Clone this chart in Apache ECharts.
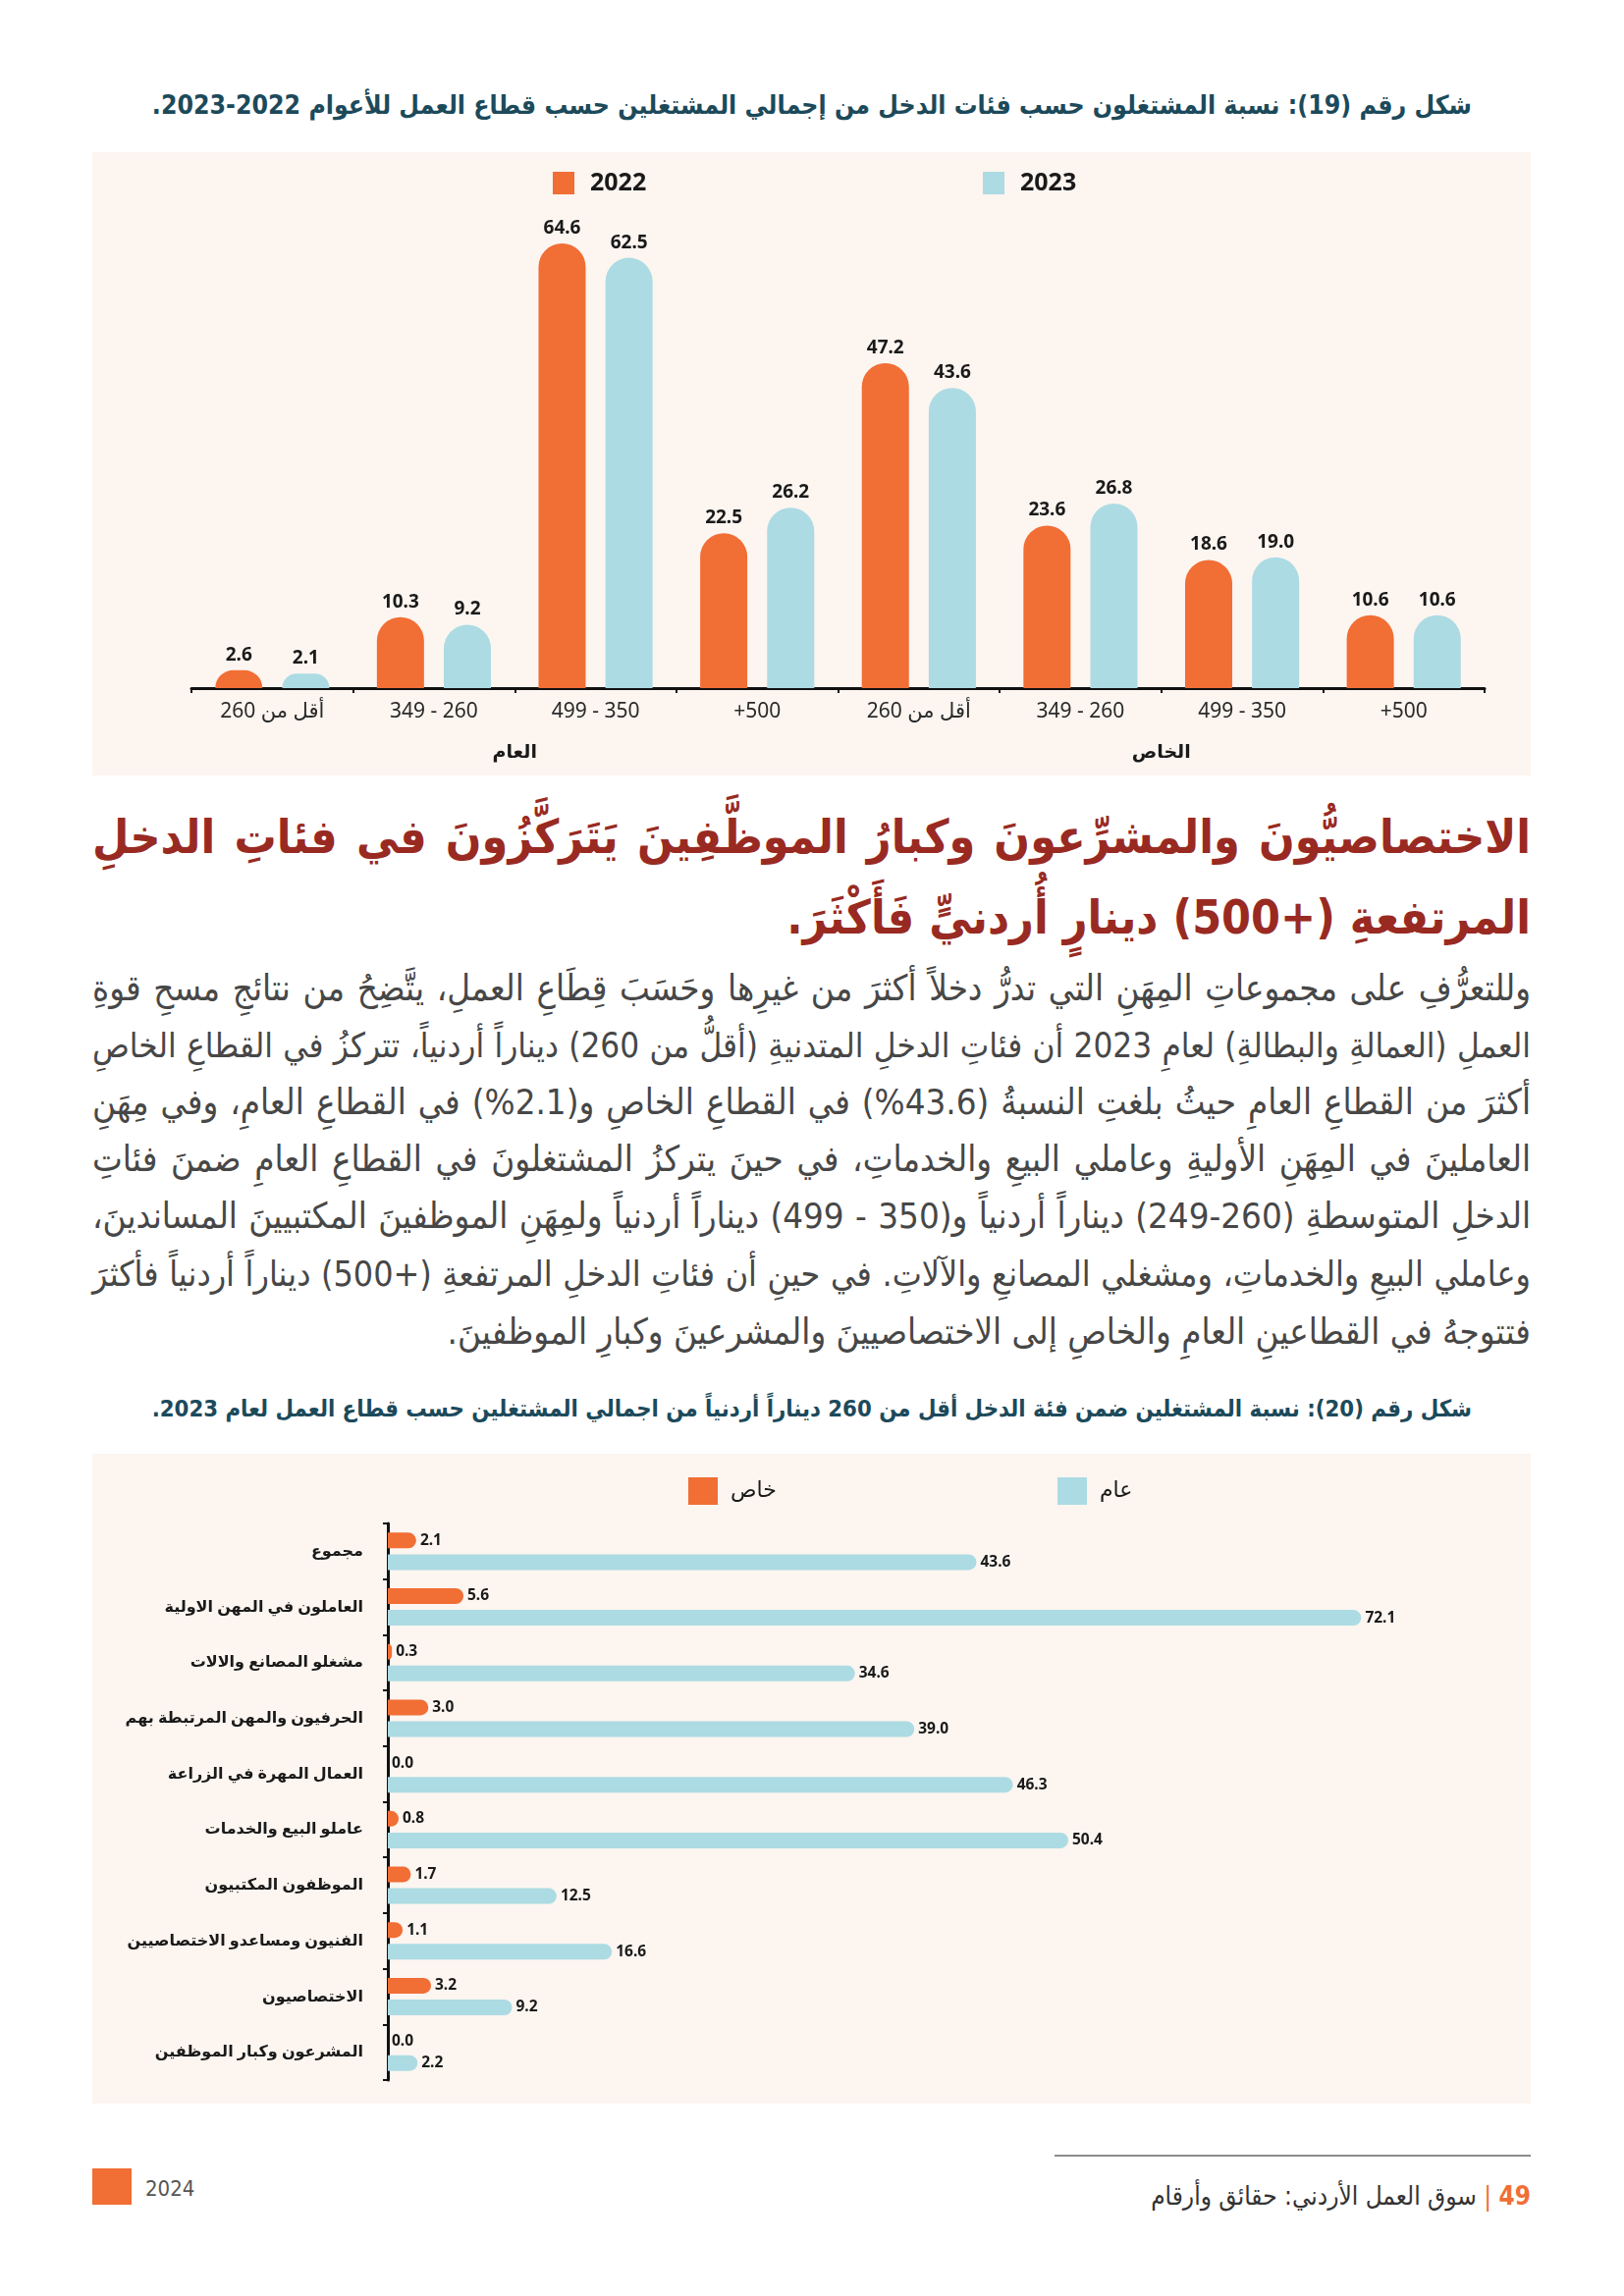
<!DOCTYPE html>
<html lang="ar">
<head>
<meta charset="utf-8">
<script src="https://cdn.jsdelivr.net/npm/echarts@6/dist/echarts.min.js"></script>
<style>
html,body{margin:0;padding:0;background:#ffffff;}
body{width:1654px;height:2339px;position:relative;overflow:hidden;font-family:"DejaVu Sans Condensed","DejaVu Sans",sans-serif;}
.abs{position:absolute;}
.cap{right:155px;white-space:nowrap;font-weight:bold;color:#1c4a5b;font-size:22px;line-height:32px;height:32px;direction:rtl;}
.panel{left:94px;width:1465px;background:#fcf5f0;}
.hd{left:94px;width:1465px;direction:rtl;text-align:right;color:#992a22;font-weight:bold;font-size:40px;line-height:64px;height:64px;white-space:nowrap;}
.bd{left:94px;width:1465px;direction:rtl;text-align:right;color:#474747;font-size:26px;line-height:46px;height:46px;white-space:nowrap;}
.just{text-align:justify;text-align-last:justify;white-space:normal;}
</style>
</head>
<body>
<div id="cap19" class="abs cap" style="top:91px;">شكل رقم (19): نسبة المشتغلون حسب فئات الدخل من إجمالي المشتغلين حسب قطاع العمل للأعوام 2022-2023.</div>
<div id="c1" class="abs panel" style="top:155px;height:635px;"></div>

<div id="h1" class="abs hd" style="top:821px;">الاختصاصيُّونَ والمشرِّعونَ وكبارُ الموظَّفِينَ يَتَرَكَّزُونَ في فئاتِ الدخلِ</div>
<div id="h2" class="abs hd" style="top:903px;">المرتفعةِ (+500) دينارٍ أُردنيٍّ فَأَكْثَرَ.</div>

<div class="abs bd bl" style="top:984px;">وللتعرُّفِ على مجموعاتِ المِهَنِ التي تدرُّ دخلاً أكثرَ من غيرِها وحَسَبَ قِطَاعِ العملِ، يتَّضِحُ من نتائجِ مسحِ قوةِ</div>
<div class="abs bd bl" style="top:1042px;">العملِ (العمالةِ والبطالةِ) لعامِ 2023 أن فئاتِ الدخلِ المتدنيةِ (أقلُّ من 260) ديناراً أردنياً، تتركزُ في القطاعِ الخاصِ</div>
<div class="abs bd bl" style="top:1100px;">أكثرَ من القطاعِ العامِ حيثُ بلغتِ النسبةُ (43.6%) في القطاعِ الخاصِ و(2.1%) في القطاعِ العامِ، وفي مِهَنِ</div>
<div class="abs bd bl" style="top:1158px;">العاملينَ في المِهَنِ الأوليةِ وعاملي البيعِ والخدماتِ، في حينَ يتركزُ المشتغلونَ في القطاعِ العامِ ضمنَ فئاتِ</div>
<div class="abs bd bl" style="top:1216px;">الدخلِ المتوسطةِ  (260-249) ديناراً أردنياً و(350 - 499) ديناراً أردنياً ولمِهَنِ الموظفينَ المكتبيينَ المساندينَ،</div>
<div class="abs bd bl" style="top:1275px;">وعاملي البيعِ والخدماتِ، ومشغلي المصانعِ والآلاتِ. في حينِ أن فئاتِ الدخلِ المرتفعةِ (+500) ديناراً أردنياً فأكثرَ</div>
<div id="blast" class="abs bd" style="top:1334px;">فتتوجهُ في القطاعينِ العامِ والخاصِ إلى الاختصاصيينَ والمشرعينَ وكبارِ الموظفينَ.</div>

<div id="cap20" class="abs cap" style="top:1419px;">شكل رقم (20): نسبة المشتغلين ضمن فئة الدخل أقل من 260 ديناراً أردنياً من اجمالي المشتغلين حسب قطاع العمل لعام 2023.</div>
<div id="c2" class="abs panel" style="top:1481px;height:662px;"></div>

<div class="abs" style="left:1074px;top:2195px;width:485px;height:2px;background:#8c8c8c;"></div>
<div class="abs" style="left:94px;top:2209px;width:40px;height:37px;background:#f16e35;"></div>
<div class="abs" style="left:148px;top:2215px;height:30px;line-height:30px;font-size:22px;color:#555;font-family:'Liberation Sans Narrow','DejaVu Sans Condensed',sans-serif;">2024</div>
<div id="foot" class="abs" style="right:95px;top:2221px;height:32px;line-height:32px;font-size:24px;color:#333;direction:rtl;white-space:nowrap;"><span style="color:#f16e35;font-weight:bold;">49</span><span style="color:#f16e35;"> | </span>سوق العمل الأردني: حقائق وأرقام</div>

<script>
// ---------- data ----------
const incomeBands = ['أقل من 260', '349 - 260', '499 - 350', '+500'];
const sectors = ['العام', 'الخاص'];
const years = ['2022', '2023'];
const values2022 = [2.6, 10.3, 64.6, 22.5, 47.2, 23.6, 18.6, 10.6];
const values2023 = [2.1, 9.2, 62.5, 26.2, 43.6, 26.8, 19.0, 10.6];

const occupations = ['مجموع', 'العاملون في المهن الاولية', 'مشغلو المصانع والالات', 'الحرفيون والمهن المرتبطة بهم',
  'العمال المهرة في الزراعة', 'عاملو البيع والخدمات', 'الموظفون المكتبيون', 'الفنيون ومساعدو الاختصاصيين',
  'الاختصاصيون', 'المشرعون وكبار الموظفين'];
const sectorNames = ['خاص', 'عام'];
const privateValues = [2.1, 5.6, 0.3, 3.0, 0.0, 0.8, 1.7, 1.1, 3.2, 0.0];
const publicValues = [43.6, 72.1, 34.6, 39.0, 46.3, 50.4, 12.5, 16.6, 9.2, 2.2];

// ---------- text fitting ----------
function natWidth(el) {
  const r = document.createRange();
  r.selectNodeContents(el);
  return r.getBoundingClientRect().width;
}
function fitTo(el, target) {
  const w = natWidth(el);
  const fs = parseFloat(getComputedStyle(el).fontSize);
  el.style.fontSize = (fs * target / w) + 'px';
  return fs * target / w;
}
fitTo(document.getElementById('cap19'), 1345);
fitTo(document.getElementById('cap20'), 1345);
const hfs = fitTo(document.getElementById('h2'), 758);
const h1 = document.getElementById('h1');
h1.style.fontSize = hfs + 'px';
if (natWidth(h1) > 1460) fitTo(h1, 1460);
h1.classList.add('just');
const bfs = fitTo(document.getElementById('blast'), 1104);
document.querySelectorAll('.bl').forEach(el => {
  el.style.fontSize = bfs + 'px';
  if (natWidth(el) > 1458) fitTo(el, 1458);
  el.classList.add('just');
});
fitTo(document.getElementById('foot'), 387);

// ---------- charts ----------
const ORANGE = '#f16e35';
const BLUE = '#acdbe3';
const FONT = '"Noto Sans", "DejaVu Sans", sans-serif';
const fmt = p => Number(p.value).toFixed(1);

const cats1 = sectors.flatMap(() => incomeBands);

const legendText1 = { fontSize: 25, fontWeight: 'bold', color: '#1a1a1a', padding: [0, 0, 0, 11], fontFamily: FONT };
const ch1 = echarts.init(document.getElementById('c1'));
ch1.setOption({
  animation: false,
  textStyle: { fontFamily: FONT },
  legend: [
    { data: [years[0]], left: 464, top: 14, icon: 'rect', itemWidth: 22, itemHeight: 23, textStyle: legendText1 },
    { data: [years[1]], left: 902, top: 14, icon: 'rect', itemWidth: 22, itemHeight: 23, textStyle: legendText1 }
  ],
  grid: { left: 101, right: 47, top: 55, bottom: 89 },
  xAxis: [
    { type: 'category', data: cats1,
      axisLine: { lineStyle: { color: '#111', width: 3 } },
      axisTick: { show: true, length: 5, lineStyle: { color: '#111', width: 2 } },
      axisLabel: { margin: 14, fontSize: 21, color: '#2a2a2a', interval: 0, fontFamily: FONT } },
    { type: 'category', data: sectors, position: 'bottom',
      axisLine: { show: false }, axisTick: { show: false },
      axisLabel: { margin: 56, fontSize: 19, fontWeight: 'bold', color: '#1a1a1a', fontFamily: FONT } }
  ],
  yAxis: { type: 'value', min: 0, max: 70, show: false },
  series: [
    { name: years[0], type: 'bar', data: values2022, barWidth: 48, barGap: '42%',
      itemStyle: { color: ORANGE, borderRadius: [24, 24, 0, 0] },
      label: { show: true, position: 'top', distance: 6, fontSize: 19, fontWeight: 'bold', color: '#1a1a1a', formatter: fmt, fontFamily: FONT } },
    { name: years[1], type: 'bar', data: values2023, barWidth: 48,
      itemStyle: { color: BLUE, borderRadius: [24, 24, 0, 0] },
      label: { show: true, position: 'top', distance: 6, fontSize: 19, fontWeight: 'bold', color: '#1a1a1a', formatter: fmt, fontFamily: FONT } }
  ]
});

const legendText2 = { fontSize: 22, color: '#1a1a1a', padding: [0, 0, 0, 8], fontFamily: FONT };
const ch2 = echarts.init(document.getElementById('c2'));
ch2.setOption({
  animation: false,
  textStyle: { fontFamily: FONT },
  legend: [
    { data: [sectorNames[0]], left: 602, top: 19, icon: 'rect', itemWidth: 30, itemHeight: 28, textStyle: legendText2 },
    { data: [sectorNames[1]], left: 978, top: 19, icon: 'rect', itemWidth: 30, itemHeight: 28, textStyle: legendText2 }
  ],
  grid: { left: 301, right: 64, top: 71, bottom: 24 },
  yAxis: { type: 'category', inverse: true, data: occupations,
    axisLine: { lineStyle: { color: '#111', width: 3 } },
    axisTick: { show: true, length: 5, lineStyle: { color: '#111', width: 2 } },
    axisLabel: { margin: 25, fontSize: 16, fontWeight: 'bold', color: '#1a1a1a', interval: 0, padding: [16, 0, 0, 0], fontFamily: FONT } },
  xAxis: { type: 'value', min: 0, max: 80, show: false },
  series: [
    { name: sectorNames[0], type: 'bar', data: privateValues, barWidth: 16, barGap: '38%',
      itemStyle: { color: ORANGE, borderRadius: [0, 8, 8, 0] },
      label: { show: true, position: 'right', distance: 4, fontSize: 15.5, fontWeight: 'bold', color: '#1a1a1a', formatter: fmt, fontFamily: FONT } },
    { name: sectorNames[1], type: 'bar', data: publicValues, barWidth: 16,
      itemStyle: { color: BLUE, borderRadius: [0, 8, 8, 0] },
      label: { show: true, position: 'right', distance: 4, fontSize: 15.5, fontWeight: 'bold', color: '#1a1a1a', formatter: fmt, fontFamily: FONT } }
  ]
});
</script>
</body>
</html>
